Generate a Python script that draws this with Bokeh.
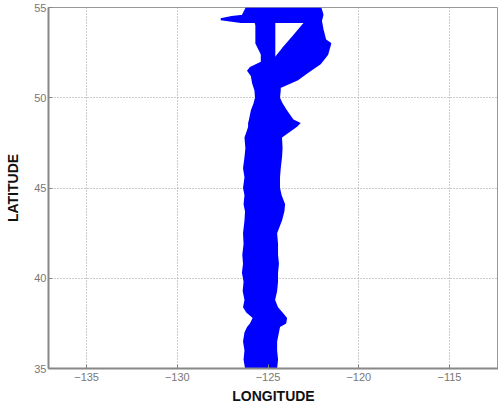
from bokeh.plotting import figure
from bokeh.embed import file_html
from bokeh.resources import INLINE
from bokeh.models import FixedTicker, Range1d

# Stem of the track: latitude with western / eastern extent (degrees)
stem_lat = [35.0, 35.5, 36.0, 36.5, 37.0, 37.3, 37.5, 37.8, 38.1, 38.4, 38.8, 39.3, 39.8,
            40.3, 40.8, 41.3, 41.9, 42.5, 43.2, 43.7, 44.1, 44.6, 45.0, 45.6, 46.1, 46.7,
            47.2, 47.8, 48.2, 48.4, 48.6, 48.8, 49.3, 49.7, 50.0, 50.4, 50.8, 51.2, 51.5,
            51.7, 52.0, 52.4, 53.0, 53.5, 54.0, 54.4]
stem_west = [-126.27, -126.35, -126.3, -126.38, -126.3, -126.16, -126.0, -125.85, -126.2, -126.38, -126.3, -126.4, -126.35,
             -126.44, -126.38, -126.42, -126.35, -126.38, -126.3, -126.27, -126.35, -126.3, -126.38, -126.3, -126.38, -126.3,
             -126.25, -126.3, -126.16, -126.1, -126.1, -126.05, -125.95, -125.8, -125.72, -125.75, -125.88, -125.95, -126.16,
             -126.0, -125.4, -125.4, -125.7, -125.7, -125.7, -125.8]
stem_east = [-124.5, -124.45, -124.5, -124.5, -124.4, -124.34, -124.0, -123.95, -124.2, -124.45, -124.61, -124.5, -124.45,
             -124.45, -124.4, -124.45, -124.45, -124.5, -124.23, -124.1, -124.06, -124.25, -124.34, -124.34, -124.3, -124.23,
             -124.2, -124.23, -123.67, -123.4, -123.2, -123.6, -123.95, -124.2, -124.34, -124.3, -124.3, -124.6, -124.6,
             -124.6, -124.6, -124.6, -124.6, -124.6, -124.6, -124.6]

# Northern lobe east of the gap
lobe_lon = [-124.3, -123.4, -122.85, -122.13, -121.74, -121.57, -121.85, -122.0, -122.13, -122.5,
            -123.1, -123.6, -124.2, -124.6, -124.6]
lobe_lat = [50.6, 51.0, 51.4, 51.9, 52.4, 53.0, 53.2, 53.8, 54.5, 54.6,
            54.0, 53.4, 52.7, 52.2, 51.0]

# Northern bar with western spur
bar_lon = [-127.6, -126.5, -125.7, -122.1, -122.0, -122.1, -126.2, -126.4, -127.0]
bar_lat = [54.35, 54.2, 54.2, 54.2, 54.6, 54.95, 54.95, 54.55, 54.48]

x_ticks = [-135, -130, -125, -120, -115]
y_ticks = [35, 40, 45, 50, 55]

p = figure(width=498, height=408, output_backend="svg", toolbar_location=None,
           x_range=Range1d(-137.1, -112.3), y_range=Range1d(35, 55),
           min_border_left=48, min_border_right=0, min_border_top=7, min_border_bottom=40)

blue = "#0000FF"
p.harea(y=stem_lat, x1=stem_west, x2=stem_east, fill_color=blue)
p.patch(lobe_lon, lobe_lat, fill_color=blue, line_color=blue, line_width=2)
p.patch(bar_lon, bar_lat, fill_color=blue, line_color=blue, line_width=2)

p.xaxis.ticker = FixedTicker(ticks=x_ticks)
p.yaxis.ticker = FixedTicker(ticks=y_ticks)
p.xaxis.axis_label = "LONGITUDE"
p.yaxis.axis_label = "LATITUDE"
for ax in (p.xaxis, p.yaxis):
    ax.axis_label_text_font = "Liberation Sans"
    ax.axis_label_text_font_style = "bold"
    ax.axis_label_text_font_size = "14px"
    ax.axis_label_text_color = "#111111"
    ax.major_label_text_font = "Liberation Sans"
    ax.major_label_text_font_size = "11px"
    ax.major_label_text_color = "#777777"
    ax.axis_line_color = "#888888"
    ax.axis_line_width = 2
    ax.major_tick_in = 4
    ax.major_tick_out = 0
    ax.major_tick_line_color = "#888888"
    ax.minor_tick_line_color = None
p.xaxis.axis_label_standoff = 4
p.yaxis.axis_label_standoff = 10
p.yaxis.major_label_standoff = 2
p.xaxis.major_label_standoff = 4

p.grid.grid_line_color = "#999999"
p.grid.grid_line_dash = "1 2"
p.grid.grid_line_width = 1
p.outline_line_color = "#999999"
p.outline_line_width = 1
p.background_fill_color = "white"

open("out.html", "w").write(file_html(p, INLINE))
